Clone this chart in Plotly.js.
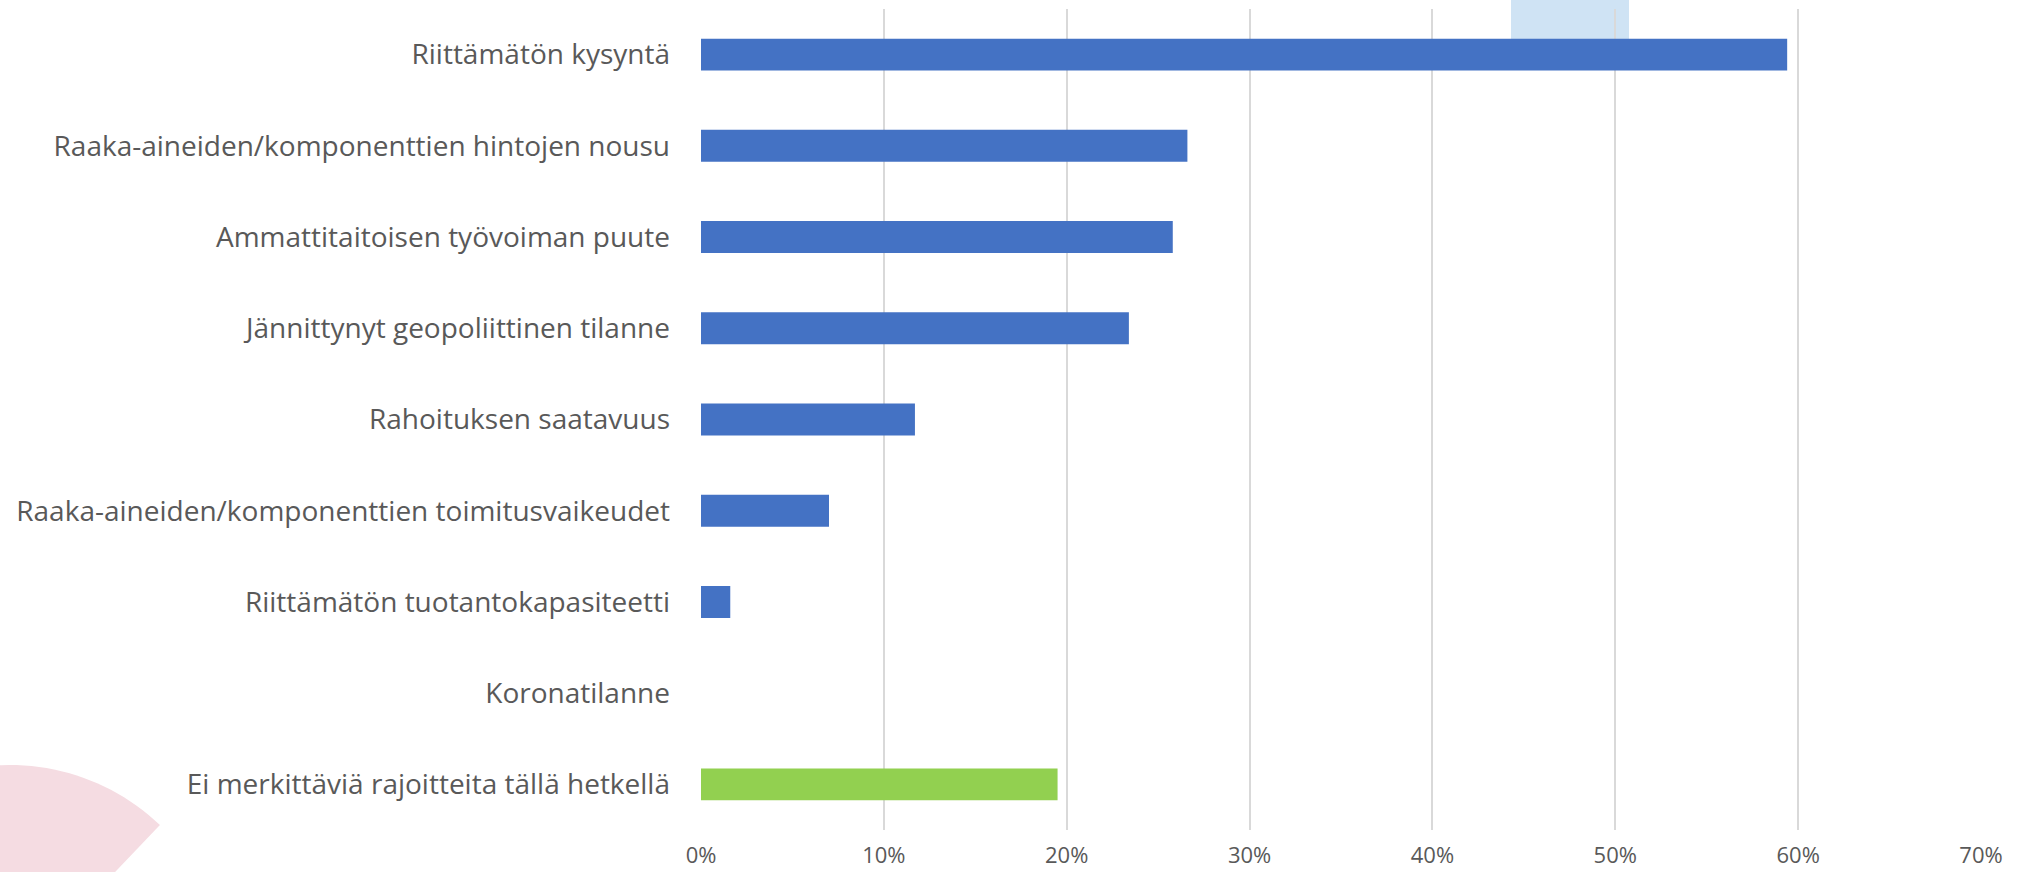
<!DOCTYPE html>
<html>
<head>
<meta charset="utf-8">
<script src="https://cdn.plot.ly/plotly-3.0.1.min.js"></script>
<style>
html,body{margin:0;padding:0;background:#fff;}
#chart{width:2024px;height:872px;}
</style>
</head>
<body>
<div id="chart"></div>
<script>
const categories = [
  "Riittämätön kysyntä",
  "Raaka-aineiden/komponenttien hintojen nousu",
  "Ammattitaitoisen työvoiman puute",
  "Jännittynyt geopoliittinen tilanne",
  "Rahoituksen saatavuus",
  "Raaka-aineiden/komponenttien toimitusvaikeudet",
  "Riittämätön tuotantokapasiteetti",
  "Koronatilanne",
  "Ei merkittäviä rajoitteita tällä hetkellä"
];
const values = [59.4, 26.6, 25.8, 23.4, 11.7, 7.0, 1.6, 0, 19.5];
const xTickValues = [0, 10, 20, 30, 40, 50, 60, 70];
const xTickLabels = ["0%", "10%", "20%", "30%", "40%", "50%", "60%", "70%"];

const BLUE = "#4472C4", GREEN = "#92D050";
const barColors = categories.map((c, i) => i === categories.length - 1 ? GREEN : BLUE);

// layout geometry (pixels)
const W = 2024, H = 872;
const M = {l: 701, r: 43, t: 9, b: 42};
const PW = W - M.l - M.r, PH = H - M.t - M.b;
const px = x => (x - M.l) / PW;
const py = y => (H - M.b - y) / PH;

// decorative pink wedge (bottom-left)
const cx = 10, cy = 982, R = 217;
let d = "M" + px(cx) + "," + py(cy);
for (let a = 46.3; a <= 160; a += 2) {
  const r = a * Math.PI / 180;
  d += " L" + px(cx + R * Math.cos(r)) + "," + py(cy - R * Math.sin(r));
}
d += " Z";

const trace = {
  type: "bar",
  orientation: "h",
  y: categories,
  x: values,
  width: 0.35,
  marker: {color: barColors, line: {width: 0}},
  hoverinfo: "skip"
};

const layout = {
  width: W, height: H,
  margin: M,
  paper_bgcolor: "#ffffff",
  plot_bgcolor: "rgba(0,0,0,0)",
  showlegend: false,
  font: {family: "'Open Sans', Lato, sans-serif", color: "#595959"},
  xaxis: {
    range: [0, 70],
    tickvals: xTickValues,
    ticktext: xTickLabels,
    showgrid: true,
    gridcolor: "#d9d9d9",
    gridwidth: 2,
    zeroline: false,
    showline: false,
    ticks: "",
    tickfont: {size: 22, color: "#595959"},
    ticklabelstandoff: 10,
    fixedrange: true
  },
  yaxis: {
    autorange: "reversed",
    showgrid: false,
    zeroline: false,
    showline: false,
    ticks: "",
    tickfont: {size: 28, color: "#595959"},
    ticklabelstandoff: 30,
    fixedrange: true
  },
  shapes: [
    {type: "path", xref: "paper", yref: "paper", path: d,
     fillcolor: "#f5dce2", line: {width: 0}, layer: "below"},
    {type: "rect", xref: "paper", yref: "paper",
     x0: px(1511), x1: px(1629), y0: py(60), y1: py(-5),
     fillcolor: "#cfe3f4", line: {width: 0}, layer: "below"}
  ]
};

Plotly.newPlot("chart", [trace], layout, {displayModeBar: false, staticPlot: true});
</script>
</body>
</html>
